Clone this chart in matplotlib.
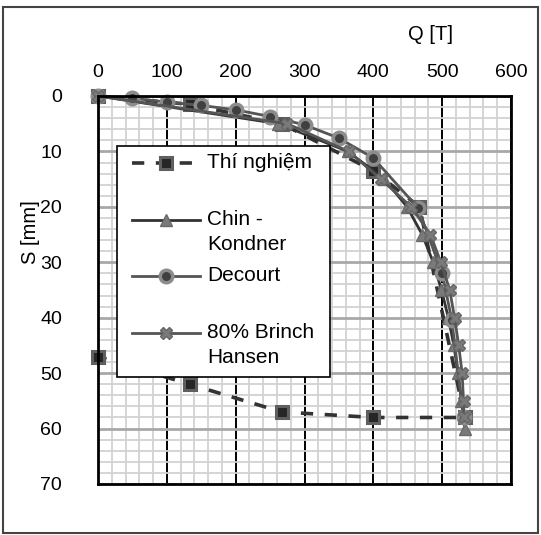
import numpy as np
import matplotlib.pyplot as plt
from matplotlib.lines import Line2D
from matplotlib.patches import Rectangle

# ------------------ DATOS ------------------

q_tn = [0, 133, 267, 400, 467, 533, 400, 267, 133, 0]
s_tn = [0, 1.5, 5, 13.5, 20, 58, 58, 57, 52, 47]

s_chin = [0, 5, 10, 15, 20, 25, 30, 35, 40, 45, 50, 55, 60]
q_chin = [0, 262, 363, 416, 449, 471, 487, 499, 509, 517, 523, 528, 533]

q_dc = [0, 50, 100, 150, 200, 250, 300, 350, 400, 465, 500, 514, 531]
s_dc = [0, 0.4, 1.1, 1.7, 2.5, 3.7, 5.2, 7.6, 11.2, 20.2, 32, 40.4, 58]

s_bh = [0, 5, 10, 15, 20, 25, 30, 35, 40, 45, 50, 55, 58]
q_bh = [0, 275, 364, 411, 455, 483, 498, 511, 518, 524, 529, 531, 531]

labels = ["Thí nghiệm", "Chin -\nKondner", "Decourt", "80% Brinch\nHansen"]

# ------------------ ESTILOS ------------------

plt.rcParams['font.family'] = ['Liberation Sans', 'DejaVu Sans']
FS = 14

estilos = [
    dict(color='#333333', lw=2.6, linestyle=(0, (3.4, 3.2)), marker='s', ms=8,
         mfc='#262626', mec='#5f5f5f', mew=2.2),
    dict(color='#333333', lw=2, marker='^', ms=8, mfc='#7a7a7a', mec='#6a6a6a', mew=1),
    dict(color='#555555', lw=2, marker='o', ms=9, mfc='#404040', mec='#8c8c8c', mew=2.5),
    dict(color='#555555', lw=2, marker='X', ms=9, mfc='#7a7a7a', mec='#666666', mew=1),
]

fig = plt.figure(figsize=(5.41, 5.35), dpi=100)
ax = fig.add_axes([98 / 541, 1 - 484 / 535, 413 / 541, 388 / 535])

# grilla
ax.set_xlim(0, 600)
ax.set_ylim(70, 0)
ax.set_xticks(np.arange(0, 601, 100))
ax.set_yticks(np.arange(0, 71, 10))
ax.set_xticks(np.arange(0, 601, 20), minor=True)
ax.set_yticks(np.arange(0, 71, 2), minor=True)
ax.grid(which='minor', color='#d2d2d2', lw=1.3)
ax.xaxis.grid(which='major', color='black', lw=1.4)
ax.yaxis.grid(which='major', color='#a8a8a8', lw=2)
ax.set_axisbelow(True)
ax.xaxis.tick_top()
ax.tick_params(which='both', length=0, labelsize=FS)
ax.tick_params(axis='x', pad=11)
ax.tick_params(axis='y', pad=26)
for sp in ax.spines.values():
    sp.set_linewidth(2)
    sp.set_color('black')

series = [(q_tn, s_tn), (q_chin, s_chin), (q_dc, s_dc), (q_bh, s_bh)]
for (q, s), est in zip(series, estilos):
    ax.plot(q, s, clip_on=False, **est)

fig.text(431 / 541, 1 - 35 / 535, "Q [T]", ha='center', va='center', fontsize=FS + 0.5)
fig.text(30 / 541, 1 - 232 / 535, "S [mm]", ha='center', va='center', rotation=90,
         fontsize=FS + 0.5)

# ------------------ LEYENDA ------------------

def px(x, y):
    return ((x - 98) / 413, (484 - y) / 388)

x0, y0 = px(117, 377)
x1, y1 = px(330, 146)
ax.add_patch(Rectangle((x0, y0), x1 - x0, y1 - y0, transform=ax.transAxes,
                       facecolor='white', edgecolor='black', lw=1.2, zorder=10))

filas_y = [163, 220, 276, 333]
for lab, est, yy in zip(labels, estilos, filas_y):
    a, b = px(132, yy)
    c, _ = px(200, yy)
    m, _ = px(166, yy)
    linea = {k: v for k, v in est.items() if k in ('color', 'lw', 'linestyle')}
    ax.add_line(Line2D([a, c], [b, b], transform=ax.transAxes, zorder=11, **linea))
    mk = {k: v for k, v in est.items() if k in ('marker', 'ms', 'mfc', 'mec', 'mew')}
    ax.add_line(Line2D([m], [b], transform=ax.transAxes, zorder=12, linestyle='none', **mk))
    tx, _ = px(207, yy)
    for i, parte in enumerate(lab.split("\n")):
        _, ty = px(207, yy + 25 * i)
        ax.text(tx, ty, parte, transform=ax.transAxes, va='center', ha='left',
                fontsize=FS + 1, zorder=13)

# borde exterior
fig.patches.append(Rectangle((3 / 541, 2 / 535), 535 / 541, 526 / 535,
                             transform=fig.transFigure, fill=False,
                             edgecolor='#444444', lw=1.5))

fig.savefig("out.png", dpi=100)
